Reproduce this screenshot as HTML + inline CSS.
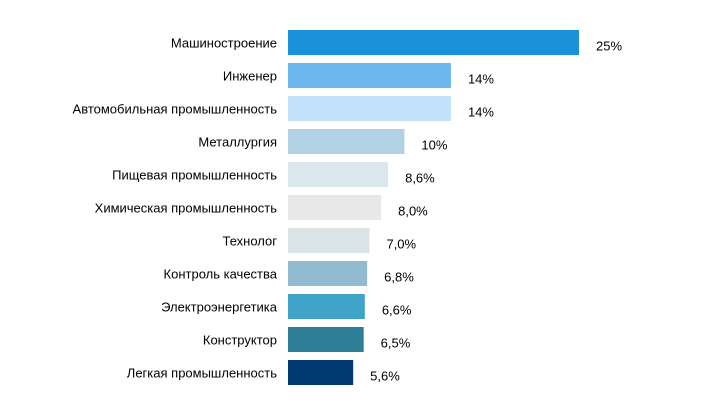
<!DOCTYPE html>
<html><head><meta charset="utf-8">
<style>
body{margin:0;background:#fff;}
svg text{font-family:"Liberation Sans Narrow","Liberation Sans",sans-serif;font-size:13px;fill:#000;}
</style></head>
<body>
<svg width="720" height="405" viewBox="0 0 720 405">
<g id="bars"></g>
</svg>
<script>
const categories=["Машиностроение","Инженер","Автомобильная промышленность","Металлургия","Пищевая промышленность","Химическая промышленность","Технолог","Контроль качества","Электроэнергетика","Конструктор","Легкая промышленность"];
const values=[25,14,14,10,8.6,8.0,7.0,6.8,6.6,6.5,5.6];
const valueLabels=["25%","14%","14%","10%","8,6%","8,0%","7,0%","6,8%","6,6%","6,5%","5,6%"];
const colors=["#1a91d8","#6cb8ee","#c2e2fb","#b0d2e4","#dbe6ed","#e8e8e8","#dae3e6","#92b9cf","#40a3c8","#2f7e98","#003a70"];
const NS="http://www.w3.org/2000/svg";
const g=document.getElementById("bars");
const x0=288, pxPer=11.64, y0=30, pitch=33, bh=25;
function xs(v){return v*pxPer;}
function ys(i){return y0+i*pitch;}
categories.forEach((c,i)=>{
  const r=document.createElementNS(NS,"rect");
  r.setAttribute("x",x0);r.setAttribute("y",ys(i));
  r.setAttribute("width",xs(values[i]));r.setAttribute("height",bh);
  r.setAttribute("fill",colors[i]);
  
  
  g.appendChild(r);
  const t=document.createElementNS(NS,"text");
  t.setAttribute("x",277);t.setAttribute("y",ys(i)+bh/2+5);
  t.setAttribute("text-anchor","end");t.textContent=c;
  
  
  g.appendChild(t);
  const v=document.createElementNS(NS,"text");
  v.setAttribute("x",x0+xs(values[i])+17);v.setAttribute("y",ys(i)+bh/2+8);
  v.textContent=valueLabels[i];
  
  
  g.appendChild(v);
});
</script>
</body></html>
